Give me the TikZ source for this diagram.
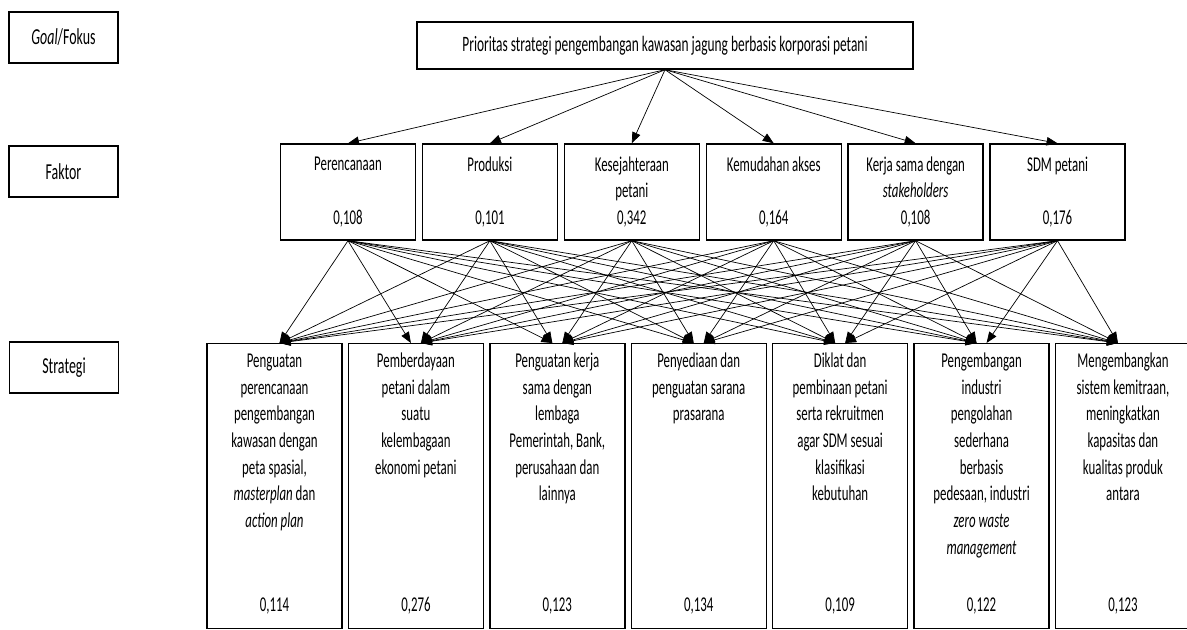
\documentclass[tikz,border=0pt]{standalone}
\usepackage{fontspec}
\setmainfont[FakeStretch=0.61]{Carlito}
\usepackage{tikz}
\usetikzlibrary{positioning,arrows.meta}

\begin{document}
\begin{tikzpicture}[
  >={Triangle[length=0.22cm,width=0.17cm]},
  font=\fontsize{12}{15.2}\selectfont,
  lbl/.style={rectangle, draw, thick, minimum width=2.18cm, minimum height=1.02cm, font=\fontsize{13}{15.2}\selectfont},
  goal/.style={rectangle, draw, thick, minimum width=9.92cm, minimum height=0.94cm, font=\fontsize{12.5}{15.2}\selectfont},
  fak/.style={rectangle, draw, thick, text width=2.5cm, inner sep=0.1cm, align=flush center, minimum height=1.92cm},
  strat/.style={rectangle, draw, thick, inner sep=0.1cm}
]
\useasboundingbox (0,0) rectangle (23.74,-12.58);

% Level labels
\node[lbl] (lgoal) at (1.27,-0.75) {\textit{Goal}/Fokus};
\node[lbl] (lfak) at (1.27,-3.43) {Faktor};
\node[lbl] (lstr) at (1.28,-7.35) {Strategi};

% Goal
\node[goal] (goal) at (13.30,-0.91) {Prioritas strategi pengembangan kawasan jagung berbasis korporasi petani};

% Factors row
\node[fak] (f1) at (6.96,-3.84) {Perencanaan\\ ~\\ 0,108};
\node[fak, right=0.11cm of f1] (f2) {Produksi\\ ~\\ 0,101};
\node[fak, right=0.11cm of f2] (f3) {Kesejahteraan\\ petani\\ 0,342};
\node[fak, right=0.11cm of f3] (f4) {Kemudahan akses\\ ~\\ 0,164};
\node[fak, right=0.11cm of f4] (f5) {Kerja sama dengan\\ \textit{stakeholders}\\ 0,108};
\node[fak, right=0.11cm of f5] (f6) {SDM petani\\ ~\\ 0,176};

% Strategies row
\node[strat, anchor=north] (s1) at (5.49,-6.86) {\parbox[t][5.5cm]{2.5cm}{\centering\strut Penguatan\\ perencanaan\\ pengembangan\\ kawasan dengan\\ peta spasial,\\ \textit{masterplan} dan\\ \textit{action plan}\par\vfill 0,114\par\vspace{0.2cm}}};
\node[strat, right=0.10cm of s1] (s2) {\parbox[t][5.5cm]{2.5cm}{\centering\strut Pemberdayaan\\ petani dalam\\ suatu\\ kelembagaan\\ ekonomi petani\par\vfill 0,276\par\vspace{0.2cm}}};
\node[strat, right=0.10cm of s2] (s3) {\parbox[t][5.5cm]{2.5cm}{\centering\strut Penguatan kerja\\ sama dengan\\ lembaga\\ Pemerintah, Bank,\\ perusahaan dan\\ lainnya\par\vfill 0,123\par\vspace{0.2cm}}};
\node[strat, right=0.10cm of s3] (s4) {\parbox[t][5.5cm]{2.5cm}{\centering\strut Penyediaan dan\\ penguatan sarana\\ prasarana\par\vfill 0,134\par\vspace{0.2cm}}};
\node[strat, right=0.10cm of s4] (s5) {\parbox[t][5.5cm]{2.5cm}{\centering\strut Diklat dan\\ pembinaan petani\\ serta rekruitmen\\ agar SDM sesuai\\ klasifikasi\\ kebutuhan\par\vfill 0,109\par\vspace{0.2cm}}};
\node[strat, right=0.10cm of s5] (s6) {\parbox[t][5.5cm]{2.5cm}{\centering\strut Pengembangan\\ industri\\ pengolahan\\ sederhana\\ berbasis\\ pedesaan, industri\\ \textit{zero waste}\\ \textit{management}\par\vfill 0,122\par\vspace{0.2cm}}};
\node[strat, right=0.10cm of s6] (s7) {\parbox[t][5.5cm]{2.5cm}{\centering\strut Mengembangkan\\ sistem kemitraan,\\ meningkatkan\\ kapasitas dan\\ kualitas produk\\ antara\par\vfill 0,123\par\vspace{0.2cm}}};

% Arrows goal -> factors
\draw[->] (goal.south) -- (f1.north);
\draw[->] (goal.south) -- (f2.north);
\draw[->] (goal.south) -- (f3.north);
\draw[->] (goal.south) -- (f4.north);
\draw[->] (goal.south) -- (f5.north);
\draw[->] (goal.south) -- (f6.north);

% Arrows factors -> strategies
\foreach \i in {1,...,6}{
  \foreach \j in {1,...,7}{
    \ifnum\i<\j \def\dx{-0.1}\else \def\dx{0.1}\fi
    \draw[->] (f\i.south) -- ([xshift=\dx cm]s\j.north);
  }
}

\end{tikzpicture}
\end{document}
